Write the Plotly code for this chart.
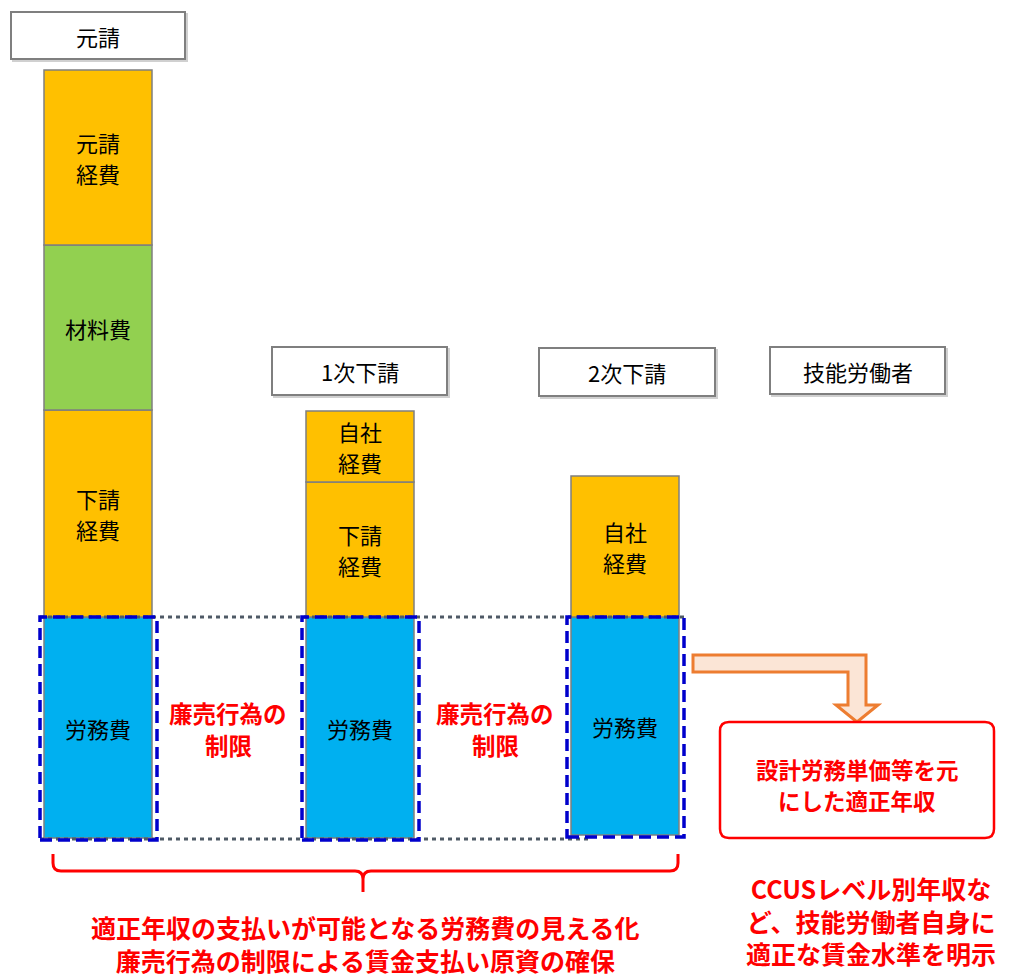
import numpy as np
import plotly.graph_objects as go

# ---------------- data ----------------
columns = ["元請", "1次下請", "2次下請"]
col_x = [98, 360, 625]          # column centres on the x axis
col_base = [0, 0, 3]

# segment heights, bottom to top (None = segment absent)
labor = [221, 221, 218]         # 労務費
sub_cost = [207, 135, None]     # 下請経費
own_cost = [None, 71, 141]      # 自社経費
material = [165, None, None]    # 材料費
prime_cost = [175, None, None]  # 元請経費

series = [
    (["労務費"], labor, "#00B0F0"),
    (["下請", "経費"], sub_cost, "#FFC000"),
    (["自社", "経費"], own_cost, "#FFC000"),
    (["材料費"], material, "#92D050"),
    (["元請", "経費"], prime_cost, "#FFC000"),
]

header_labels = ["元請", "1次下請", "2次下請", "技能労働者"]

FONT = "Noto Sans CJK JP, Noto Sans, sans-serif"
BAR_W = 108
W, H = 1009, 976
BASE_PX = 838
LINE_GAP = 31


def Y(p):
    return BASE_PX - p


def add_lines(anns, x, y_center, lines, gap, font):
    n = len(lines)
    for i, ln in enumerate(lines):
        off = ((n - 1) / 2 - i) * gap
        anns.append(dict(x=x, y=y_center + off, text=ln, showarrow=False, font=font,
                         xanchor="center", yanchor="middle"))


fig = go.Figure()
annotations = []
running = np.array(col_base, dtype=float)
for lines, vals, color in series:
    v = np.array([np.nan if a is None else a for a in vals], dtype=float)
    base = running.copy()
    fig.add_trace(go.Bar(
        x=col_x, y=v, base=base, width=BAR_W,
        marker=dict(color=color, line=dict(color="#7f7f7f", width=1.5)),
        hoverinfo="skip", showlegend=False,
    ))
    for cx, b, h in zip(col_x, base, v):
        if np.isnan(h):
            continue
        add_lines(annotations, cx, b + h / 2, lines, LINE_GAP,
                  dict(family=FONT, size=22, color="black"))
    running += np.nan_to_num(v)

shapes = []

# header label boxes
header_boxes = [(11, 185, 12, 59), (272, 447, 347, 395), (539, 715, 348, 396), (770, 945, 347, 394)]
for lab, (x0, x1, y0, y1) in zip(header_labels, header_boxes):
    shapes.append(dict(type="rect", x0=x0 + 2, x1=x1 + 2, y0=Y(y0 + 2), y1=Y(y1 + 2),
                       line=dict(color="#d0d0d0", width=2), fillcolor="#d0d0d0", layer="below"))
    shapes.append(dict(type="rect", x0=x0, x1=x1, y0=Y(y0), y1=Y(y1),
                       line=dict(color="#7f7f7f", width=2), fillcolor="white", layer="below"))
    annotations.append(dict(x=(x0 + x1) / 2, y=Y((y0 + y1) / 2), text=lab, showarrow=False,
                            font=dict(family=FONT, size=22, color="black"),
                            xanchor="center", yanchor="middle"))

# gray dotted guide lines (top and bottom of labour cost)
top_lab = col_base[0] + labor[0]
shapes.append(dict(type="line", x0=40, x1=686, y0=top_lab, y1=top_lab,
                   line=dict(color="#4f5a66", width=3, dash="4px,4px")))
shapes.append(dict(type="line", x0=40, x1=590, y0=-1, y1=-1,
                   line=dict(color="#4f5a66", width=3, dash="4px,4px")))

# blue dashed frames around labour cost
for cx, b, h in zip(col_x, col_base, labor):
    shapes.append(dict(type="rect", x0=cx - BAR_W / 2 - 4, x1=cx + BAR_W / 2 + 5,
                       y0=b - 2, y1=b + h,
                       line=dict(color="#0000CC", width=3.5, dash="12px,6px")))

# red text between columns
for xc in [228, 495]:
    add_lines(annotations, xc, Y(729), ["廉売行為の", "制限"], 32.5,
              dict(family=FONT, size=23.5, color="#FF0000", weight="bold"))

# orange bent arrow
pts = [(693, 655), (866, 655), (866, 705), (878, 705), (857, 722),
       (836, 705), (848, 705), (848, 672), (693, 672)]
path = "M " + " L ".join(f"{x},{Y(y)}" for x, y in pts) + " Z"
shapes.append(dict(type="path", path=path, fillcolor="#FBE5D6",
                   line=dict(color="#ED7D31", width=3)))

# red rounded box
x0, x1, y0, y1, r = 720, 994, 722, 838, 9
rp = (f"M {x0 + r},{Y(y0)} L {x1 - r},{Y(y0)} Q {x1},{Y(y0)} {x1},{Y(y0 + r)} "
      f"L {x1},{Y(y1 - r)} Q {x1},{Y(y1)} {x1 - r},{Y(y1)} L {x0 + r},{Y(y1)} "
      f"Q {x0},{Y(y1)} {x0},{Y(y1 - r)} L {x0},{Y(y0 + r)} Q {x0},{Y(y0)} {x0 + r},{Y(y0)} Z")
shapes.append(dict(type="path", path=rp, fillcolor="white", line=dict(color="#FF0000", width=2.5)))
add_lines(annotations, 857, Y(784), ["設計労務単価等を元", "にした適正年収"], 31,
          dict(family=FONT, size=22.5, color="#FF0000", weight="bold"))

# red brace
bl, bm, br, bt, bh, bb, rr = 53, 363, 678, 854, 871, 892, 8
brace = (f"M {bl},{Y(bt)} L {bl},{Y(bh - rr)} Q {bl},{Y(bh)} {bl + rr},{Y(bh)} "
         f"L {bm - rr},{Y(bh)} Q {bm},{Y(bh)} {bm},{Y(bh + rr)} L {bm},{Y(bb)} "
         f"M {bm},{Y(bh + rr)} Q {bm},{Y(bh)} {bm + rr},{Y(bh)} "
         f"L {br - rr},{Y(bh)} Q {br},{Y(bh)} {br},{Y(bh - rr)} L {br},{Y(bt)}")
shapes.append(dict(type="path", path=brace, line=dict(color="#FF0000", width=3)))

annotations.append(dict(x=365, y=Y(943),
                        text="適正年収の支払いが可能となる労務費の見える化<br>廉売行為の制限による賃金支払い原資の確保",
                        showarrow=False,
                        font=dict(family=FONT, size=25, color="#FF0000", weight="bold"),
                        xanchor="center", yanchor="middle"))

annotations.append(dict(x=871, y=Y(920),
                        text="CCUSレベル別年収な<br>ど、技能労働者自身に<br>適正な賃金水準を明示",
                        showarrow=False,
                        font=dict(family=FONT, size=25, color="#FF0000", weight="bold"),
                        xanchor="center", yanchor="middle"))

fig.update_layout(
    width=W, height=H, autosize=False,
    margin=dict(l=0, r=0, t=0, b=0),
    paper_bgcolor="white", plot_bgcolor="white",
    barmode="overlay",
    xaxis=dict(range=[0, W], visible=False, fixedrange=True),
    yaxis=dict(range=[BASE_PX - H, BASE_PX], visible=False, fixedrange=True),
    shapes=shapes, annotations=annotations,
    font=dict(family=FONT),
)

fig.write_html("out.html")
